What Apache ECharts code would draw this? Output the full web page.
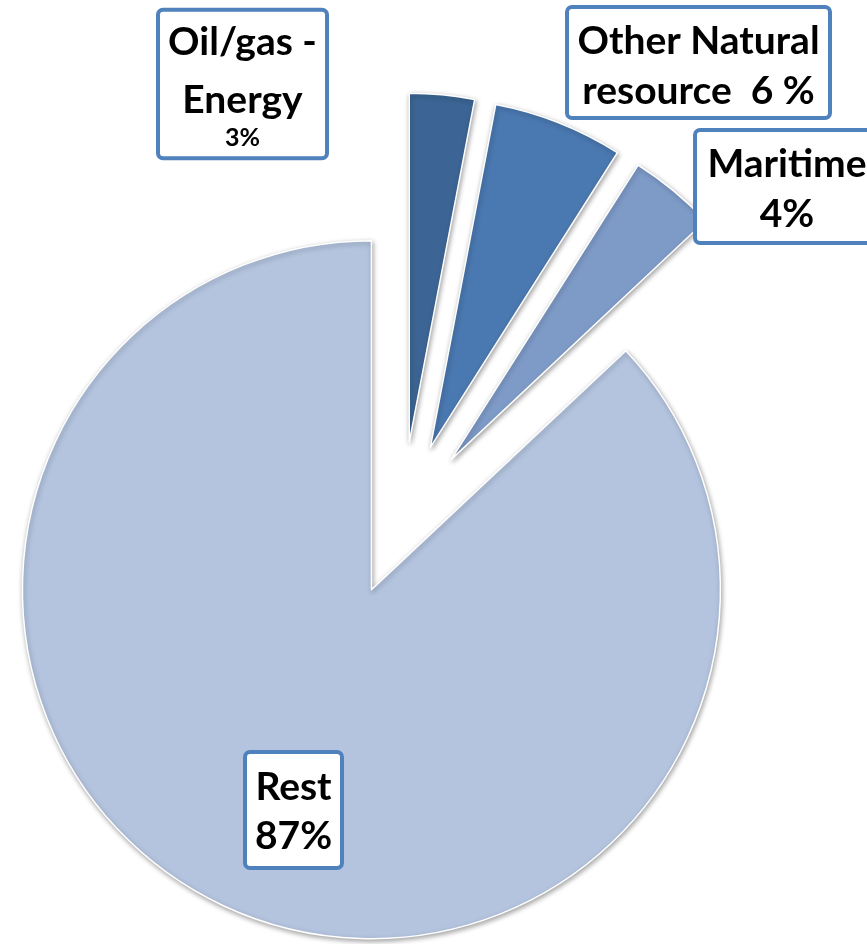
<!DOCTYPE html>
<html>
<head>
<meta charset="utf-8">
<script src="https://cdn.jsdelivr.net/npm/echarts@6/dist/echarts.min.js"></script>
<style>
  html, body { margin: 0; padding: 0; background: #ffffff; }
  #chart { width: 867px; height: 944px; }
</style>
</head>
<body>
<div id="chart"></div>
<script>
// Sector shares (percent)
const categories = ['Oil/gas - Energy', 'Other Natural resource', 'Maritime', 'Rest'];
const shares = [3, 6, 4, 87];
// Callout text per sector; {v} is replaced by the sector value
const labelTemplates = [
  '{a|Oil/gas -}\n{a|Energy}\n{b|{v}%}',
  '{a|Other Natural}\n{a|resource  {v} %}',
  '{a|Maritime}\n{a|{v}%}',
  '{a|Rest}\n{a|{v}%}'
];
const sliceColors = ['#3c6595', '#4a78b0', '#7e9bc8', '#b4c4df'];

// Callout boxes: centre, inner width, padding, line height
const labelBoxes = [
  { x: 242.5, y: 84,    width: 165, padding: [2, 0, 10, 0], lh: 57.5 },
  { x: 698.5, y: 62.5,  width: 259, padding: [7, 0, 0, 0],  lh: 50 },
  { x: 787,   y: 186.5, width: 180, padding: [7, 0, 2, 0],  lh: 50 },
  { x: 293.5, y: 810,   width: 93,  padding: [9, 0, 5, 0],  lh: 49 }
];

const FONT = 'Lato, "Open Sans", sans-serif';
const BIG = 39;
const SMALL = 25;

const chart = echarts.init(document.getElementById('chart'), null, { renderer: 'canvas' });

const data = categories.map((name, i) => ({
  name: name,
  value: shares[i],
  selected: true,
  itemStyle: { color: sliceColors[i] }
}));

// One callout per sector, text built from the same share values
const callouts = categories.map((name, i) => {
  const b = labelBoxes[i];
  return {
    type: 'text',
    x: b.x,
    y: b.y,
    z: 100,
    style: {
      text: labelTemplates[i].replace('{v}', shares[i]),
      align: 'center',
      verticalAlign: 'middle',
      width: b.width,
      padding: b.padding,
      backgroundColor: '#ffffff',
      borderColor: '#4f81bd',
      borderWidth: 4,
      borderRadius: 3,
      fill: '#000000',
      fontFamily: FONT,
      fontWeight: 'bold',
      fontSize: BIG,
      rich: {
        a: { fontFamily: FONT, fontWeight: 'bold', fontSize: BIG, fill: '#000000', lineHeight: b.lh, align: 'center' },
        b: { fontFamily: FONT, fontWeight: 'bold', fontSize: SMALL, fill: '#000000', lineHeight: 17.5, align: 'center' }
      }
    }
  };
});

chart.setOption({
  animation: false,
  backgroundColor: '#ffffff',
  series: [{
    type: 'pie',
    center: [402, 519],
    radius: [0, 349],
    startAngle: 90,
    clockwise: true,
    selectedMode: 'multiple',
    selectedOffset: 77,
    avoidLabelOverlap: false,
    itemStyle: {
      borderColor: '#ffffff',
      borderWidth: 1.5,
      shadowBlur: 5,
      shadowColor: 'rgba(0,0,0,0.35)',
      shadowOffsetX: 1,
      shadowOffsetY: 2
    },
    select: {
      itemStyle: { borderColor: '#ffffff', borderWidth: 1.5 }
    },
    emphasis: { disabled: true },
    label: { show: false },
    labelLine: { show: false },
    data: data
  }],
  graphic: callouts
});
</script>
</body>
</html>
